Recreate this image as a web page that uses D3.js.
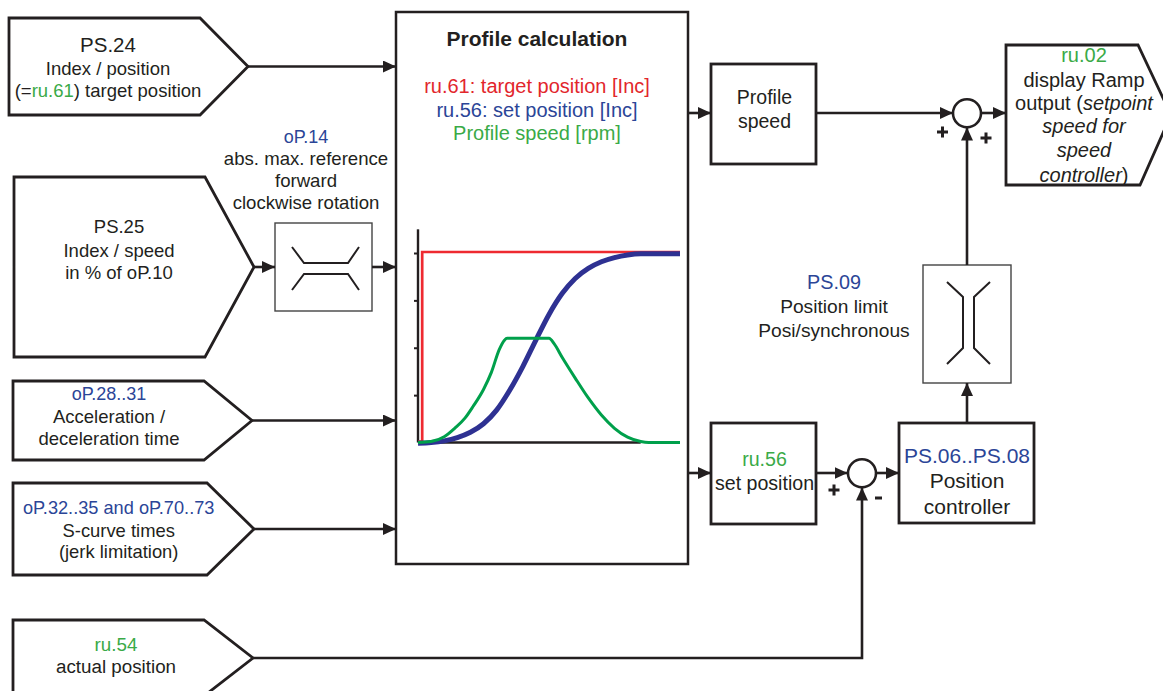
<!DOCTYPE html>
<html><head><meta charset="utf-8">
<script src="https://cdn.jsdelivr.net/npm/d3@7"></script>
<style>html,body{margin:0;padding:0;background:#fff;overflow:hidden}</style>
</head><body><svg id="c" width="1163" height="691"></svg>
<script>
// ---- embedded chart data (Profile calculation plot) ----
const setPosTime   = [0, 5, 10, 15, 20, 25, 30, 35, 40, 45, 50, 55, 60, 65, 70, 75, 80, 85, 90, 95, 100];
const setPosition  = [0, 0.4, 1.3, 3, 5.8, 10.3, 17.5, 28, 40.5, 54.5, 68, 79, 87, 92.3, 95.8, 98, 99.4, 100, 100, 100, 100];
const speedTime    = [0, 5, 10, 14, 18, 21, 25, 28, 31, 33, 34, 42, 50, 52, 55, 60, 65, 70, 75, 80, 85, 88, 95, 100];
const profileSpeed = [0, 0.5, 3, 7.5, 13, 19, 28, 37, 49, 54, 55, 55, 55, 52, 45, 34, 23.5, 14.5, 7.5, 2.8, 0.5, 0, 0, 0];
const targetTime     = [0, 1.6, 1.6, 100];
const targetPosition = [0, 0, 100, 100];
const yTickValues = [25, 50, 75, 100];
const yAxisTop = 112.5;
const xAxisEnd = 85;

const INK = '#231f20', BLUE_T = '#2b4597', GREEN_T = '#3aaa47', RED_T = '#e2262c';
const C_RED = '#ee2a30', C_BLUE = '#2e3192', C_GREEN = '#00a04b';
const F = '"Liberation Sans", Arial, Helvetica, sans-serif';

const svg = d3.select('#c');
svg.append('rect').attr('width',1163).attr('height',691).attr('fill','#fff');
const defs = svg.append('defs');
defs.append('marker').attr('id','arr').attr('viewBox','0 0 13 12')
  .attr('refX',13).attr('refY',6).attr('markerWidth',13).attr('markerHeight',12)
  .attr('markerUnits','userSpaceOnUse').attr('orient','auto')
  .append('path').attr('d','M0,0L13,6L0,12Z').attr('fill',INK);

// ---- pentagon input/output blocks ----
const pentagons = [
  [[9,18],[200,18],[248,66.5],[200,115],[9,115]],
  [[14,177],[205,177],[254,267],[205,357],[14,357]],
  [[13,381],[204,381],[252,420.5],[204,460],[13,460]],
  [[13,483],[207,483],[254,529],[207,575],[13,575]],
  [[13,620],[204,620],[253,658],[204,696],[13,696]],
  [[1006,45],[1138,45],[1171,115],[1140,185],[1006,185]]
];
pentagons.forEach(p => svg.append('path').attr('d','M'+p.join('L')+'Z')
  .attr('fill','none').attr('stroke',INK).attr('stroke-width',2.8).attr('stroke-linejoin','miter'));

// ---- rectangles ----
const boxes = [
  {r:[396,12,688,564], w:2.5},
  {r:[711,64,816,164], w:2.8},
  {r:[711,423,816,524], w:2.8},
  {r:[899,423,1034,523], w:2.8},
  {r:[275,223,372,311], w:1.4, c:'#444'},
  {r:[923,265,1011,383], w:1.4, c:'#444'}
];
boxes.forEach(b => svg.append('rect').attr('x',b.r[0]).attr('y',b.r[1])
  .attr('width',b.r[2]-b.r[0]).attr('height',b.r[3]-b.r[1])
  .attr('fill','none').attr('stroke',b.c||INK).attr('stroke-width',b.w));

// limiter symbols
const limH = [[[292,247],[304,263],[348,263],[359,247]], [[292,290],[304,274],[348,274],[359,290]]];
const limV = [[[947,282],[963,297],[963,348],[947,364]], [[990,282],[974,297],[974,348],[990,364]]];
limH.concat(limV).forEach(p => svg.append('path').attr('d','M'+p.join('L'))
  .attr('fill','none').attr('stroke',INK).attr('stroke-width',2));

// ---- connections ----
const arrows = [
  [[248,66.5],[396,66.5]],
  [[254,267],[275,267]],
  [[372,267],[396,267]],
  [[252,420.5],[396,420.5]],
  [[254,529],[396,529]],
  [[688,113],[711,113]],
  [[816,113],[953,113]],
  [[981,113],[1006,113]],
  [[967,265],[967,127.5]],
  [[688,473],[711,473]],
  [[816,473],[847.5,473]],
  [[876,473],[899,473]],
  [[967,423],[967,383]],
  [[253,658],[862,658],[862,487.5]]
];
arrows.forEach(p => svg.append('path').attr('d','M'+p.join('L'))
  .attr('fill','none').attr('stroke',INK).attr('stroke-width',2.6).attr('marker-end','url(#arr)'));

// summing junctions
[[967,113.3],[862,473.3]].forEach(c => svg.append('circle').attr('cx',c[0]).attr('cy',c[1]).attr('r',14)
  .attr('fill','#fff').attr('stroke',INK).attr('stroke-width',2.6));
function plus(cx,cy){ svg.append('path').attr('d',`M${cx-5.5},${cy}h11M${cx},${cy-5.5}v11`).attr('stroke',INK).attr('stroke-width',3); }
plus(942.5,132); plus(986,138); plus(834,490);
svg.append('path').attr('d','M875,498h7').attr('stroke',INK).attr('stroke-width',3);

// ---- texts ----
function label(x, lines){
  lines.forEach(l => {
    const t = svg.append('text').attr('x',x).attr('y',l.y).attr('text-anchor','middle')
      .attr('font-family',F).attr('font-size',l.s).attr('fill',l.c||INK);
    if (l.b) t.attr('font-weight','bold');
    const parts = Array.isArray(l.t) ? l.t : [[l.t, null, l.i]];
    parts.forEach(p => { const ts = t.append('tspan').text(p[0]); if (p[1]) ts.attr('fill',p[1]); if (p[2]) ts.attr('font-style','italic'); });
  });
}
label(108, [{y:52,s:20.5,t:'PS.24'},{y:75,s:18.5,t:'Index / position'},{y:97,s:18.5,t:[['(='],['ru.61',GREEN_T],[') target position']]}]);
label(306, [{y:143,s:18,t:'oP.14',c:BLUE_T},{y:165,s:18.6,t:'abs. max. reference'},{y:187,s:18.6,t:'forward'},{y:209,s:18.6,t:'clockwise rotation'}]);
label(119, [{y:233,s:18.5,t:'PS.25'},{y:257,s:18.5,t:'Index / speed'},{y:279,s:18.5,t:'in % of oP.10'}]);
label(109, [{y:400,s:18,t:'oP.28..31',c:BLUE_T},{y:423,s:18.5,t:'Acceleration /'},{y:445,s:18.5,t:'deceleration time'}]);
label(118.7, [{y:514,s:18.2,t:'oP.32..35 and oP.70..73',c:BLUE_T},{y:537,s:18.4,t:'S-curve times'},{y:558,s:18.4,t:'(jerk limitation)'}]);
label(116, [{y:651,s:18.8,t:'ru.54',c:GREEN_T},{y:673,s:18.8,t:'actual position'}]);
label(537, [{y:46,s:21,b:true,t:'Profile calculation'},{y:93,s:20,t:'ru.61: target position [Inc]',c:RED_T},{y:117,s:20,t:'ru.56: set position [Inc]',c:BLUE_T},{y:140,s:20,t:'Profile speed [rpm]',c:GREEN_T}]);
label(764.5, [{y:104,s:19.5,t:'Profile'},{y:128,s:19.5,t:'speed'}]);
label(1084, [{y:62,s:20,t:'ru.02',c:GREEN_T},{y:87,s:20,t:'display Ramp'},{y:110,s:20,t:[['output ('],['setpoint',null,true]]},{y:133,s:20,t:'speed for',i:true},{y:157,s:20,t:'speed',i:true},{y:182,s:20,t:[['controller',null,true],[')']]}]);
label(834, [{y:289,s:19.8,t:'PS.09',c:BLUE_T},{y:313,s:19.2,t:'Position limit'},{y:337,s:19.2,t:'Posi/synchronous'}]);
label(764.5, [{y:466,s:19.6,t:'ru.56',c:GREEN_T},{y:490,s:19.6,t:'set position'}]);
label(967, [{y:463,s:21,t:'PS.06..PS.08',c:BLUE_T},{y:488,s:21,t:'Position'},{y:514,s:21,t:'controller'}]);

// ---- embedded plot ----
const x = d3.scaleLinear().domain([0,100]).range([418,680]);
const y = d3.scaleLinear().domain([0,100]).range([442.5,253]);
const plot = svg.append('g');
plot.append('line').attr('x1',x(0)).attr('x2',x(xAxisEnd)).attr('y1',y(0)).attr('y2',y(0)).attr('stroke',INK).attr('stroke-width',2.4);
plot.append('line').attr('x1',x(0)).attr('x2',x(0)).attr('y1',y(0)).attr('y2',y(yAxisTop)).attr('stroke',INK).attr('stroke-width',2.4);
plot.append('g').attr('transform',`translate(${x(0)},0)`)
  .call(d3.axisLeft(y).tickValues(yTickValues).tickSize(4).tickSizeOuter(0).tickFormat(''))
  .call(g => g.select('.domain').remove())
  .selectAll('line').attr('stroke',INK).attr('stroke-width',2);

const lin = d3.line().x(d=>x(d[0])).y(d=>y(d[1]));
const smooth = d3.line().x(d=>x(d[0])).y(d=>y(d[1])).curve(d3.curveMonotoneX);
plot.append('path').attr('d', lin(d3.zip(targetTime, targetPosition)))
  .attr('fill','none').attr('stroke',C_RED).attr('stroke-width',2.7).attr('transform','translate(0,-1)');
plot.append('path').attr('d', smooth(d3.zip(setPosTime, setPosition)))
  .attr('fill','none').attr('stroke',C_BLUE).attr('stroke-width',5).attr('transform','translate(0,0.8)');
plot.append('path').attr('d', smooth(d3.zip(speedTime, profileSpeed)))
  .attr('fill','none').attr('stroke',C_GREEN).attr('stroke-width',3);
</script></body></html>
